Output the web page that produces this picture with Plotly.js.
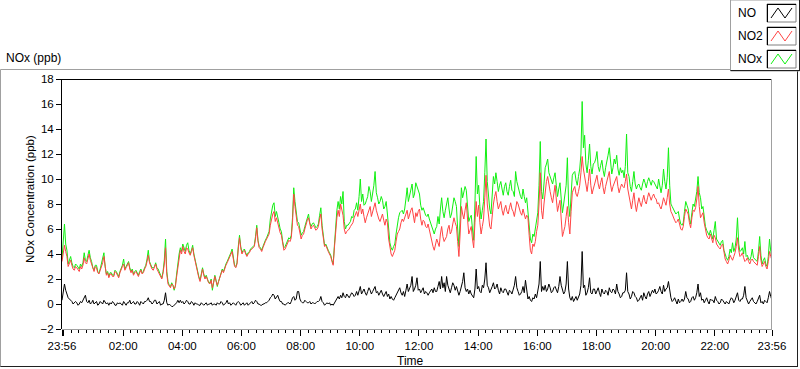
<!DOCTYPE html>
<html>
<head>
<meta charset="utf-8">
<script src="https://cdn.plot.ly/plotly-3.0.1.min.js"></script>
<style>
html,body{margin:0;padding:0;background:#fff;}
#chart{width:800px;height:369px;}
</style>
</head>
<body>
<div id="chart"></div>
<script>
// Sampling: every 2.5 minutes starting 23:56 on day 1, to 23:56 on day 2
const startTime = '2020-01-01T23:56:00';
const stepMinutes = 2.5;

const seriesNames = ['NO', 'NO2', 'NOx'];

// NO2 (ppb), one row per hour
const no2Values = [
  3.4, 3.9, 4.7, 4.2, 3.8, 3.0, 3.3, 3.5, 3.1, 2.8, 2.7, 3.0, 2.9, 2.7, 2.6, 3.0, 2.8, 3.1, 3.7, 3.3, 3.2, 3.6, 4.0, 3.5,
  3.2, 2.8, 2.6, 3.0, 2.9, 2.5, 2.4, 2.7, 3.0, 3.3, 3.8, 2.9, 2.3, 2.5, 2.1, 2.4, 2.4, 2.2, 2.2, 2.6, 2.5, 2.3, 2.1, 2.5,
  2.8, 3.0, 3.2, 2.7, 2.9, 3.1, 3.3, 2.8, 2.5, 2.7, 2.3, 2.5, 2.6, 2.4, 2.2, 2.5, 2.7, 2.4, 2.5, 2.8, 3.0, 3.4, 3.9, 3.3,
  3.0, 2.8, 2.7, 2.9, 3.2, 2.8, 2.6, 2.4, 2.2, 2.0, 2.5, 3.2, 4.5, 2.4, 1.6, 1.4, 1.3, 1.6, 1.5, 1.2, 1.4, 2.2, 3.0, 3.8,
  4.3, 4.0, 4.6, 4.2, 4.0, 4.5, 4.4, 4.1, 3.9, 4.2, 4.5, 3.9, 3.4, 2.9, 2.4, 2.1, 1.8, 2.3, 2.8, 2.3, 2.0, 2.2, 1.9, 1.7,
  1.6, 1.9, 1.3, 1.7, 2.2, 1.8, 1.5, 1.8, 2.1, 2.4, 2.7, 2.5, 2.9, 3.1, 3.3, 3.5, 3.8, 4.0, 4.2, 3.6, 3.0, 2.9, 3.2, 4.4,
  5.3, 4.5, 4.0, 4.2, 4.3, 4.0, 3.8, 4.0, 4.1, 4.3, 4.4, 4.5, 4.6, 5.2, 6.1, 5.0, 4.5, 4.4, 4.2, 4.5, 4.8, 5.0, 5.2, 5.4,
  5.6, 6.3, 6.8, 7.2, 7.4, 6.6, 6.9, 6.4, 6.0, 5.7, 5.5, 4.8, 4.3, 4.4, 4.6, 4.9, 5.1, 5.0, 5.3, 6.5, 8.8, 7.8, 7.0, 6.3,
  6.2, 5.6, 5.2, 5.5, 5.6, 6.0, 6.4, 6.7, 6.9, 6.3, 6.0, 6.2, 6.3, 6.1, 5.9, 6.0, 6.2, 6.8, 7.2, 6.0, 5.0, 4.6, 4.7, 4.4,
  4.2, 4.0, 3.8, 3.4, 3.1, 4.5, 6.0, 6.9, 7.5, 7.0, 8.0, 7.5, 7.1, 6.0, 5.6, 5.8, 5.9, 6.0, 6.2, 6.4, 6.5, 6.9, 7.2, 7.4,
  7.0, 7.6, 8.0, 7.2, 7.6, 7.0, 6.5, 6.9, 7.2, 7.5, 7.8, 7.0, 7.4, 7.8, 8.1, 7.5, 7.0, 6.8, 6.6, 7.0, 7.2, 6.7, 6.3, 6.8,
  6.5, 5.2, 4.4, 4.0, 3.8, 4.1, 4.3, 5.0, 5.6, 5.8, 6.0, 6.5, 6.8, 6.6, 6.9, 7.3, 7.5, 6.8, 7.2, 7.5, 7.7, 6.9, 6.5, 7.3,
  7.0, 7.4, 7.6, 6.8, 6.3, 6.7, 6.6, 6.2, 6.1, 6.4, 5.9, 5.3, 5.0, 4.6, 4.3, 4.8, 5.2, 4.9, 4.6, 5.6, 6.2, 5.4, 5.0, 5.2,
  5.4, 6.0, 6.3, 5.6, 5.8, 6.4, 6.9, 6.5, 6.2, 5.0, 3.8, 5.6, 7.8, 7.2, 6.8, 7.5, 8.1, 6.8, 5.6, 5.9, 6.2, 5.2, 4.5, 6.5,
  8.2, 7.0, 7.9, 6.5, 5.6, 6.2, 6.8, 8.5, 10.3, 8.0, 7.0, 6.2, 6.0, 7.2, 8.0, 8.6, 9.0, 8.2, 7.6, 7.9, 8.2, 7.5, 7.1, 7.6,
  7.9, 7.4, 7.2, 7.7, 8.1, 7.6, 7.4, 7.0, 7.8, 8.2, 8.0, 7.5, 7.3, 7.1, 7.6, 7.2, 6.8, 7.1, 6.9, 5.5, 4.3, 4.0, 4.8, 4.6,
  5.0, 5.8, 6.3, 8.0, 10.5, 7.5, 6.8, 8.0, 9.2, 9.8, 10.2, 9.4, 9.0, 8.5, 8.1, 8.8, 9.5, 8.4, 7.4, 7.9, 8.3, 6.8, 5.4, 5.8,
  6.2, 7.0, 7.8, 6.5, 5.6, 7.4, 8.9, 9.2, 9.4, 8.8, 8.6, 9.0, 9.5, 10.5, 11.8, 10.8, 10.2, 9.4, 9.0, 9.8, 10.8, 9.5, 8.8, 9.2,
  9.6, 10.0, 10.3, 9.6, 9.2, 9.7, 10.1, 9.3, 8.8, 9.4, 9.9, 10.3, 10.6, 9.6, 9.0, 9.4, 9.7, 10.0, 10.2, 9.4, 8.9, 9.3, 9.6, 9.4,
  9.3, 9.8, 10.4, 9.2, 8.6, 8.0, 7.6, 8.3, 8.9, 8.0, 7.4, 8.0, 8.5, 8.1, 7.8, 8.3, 8.7, 8.2, 8.0, 8.5, 8.9, 8.6, 8.3, 8.6,
  8.8, 8.5, 8.4, 8.0, 8.1, 7.8, 7.6, 8.0, 8.5, 8.2, 7.9, 8.5, 9.2, 8.0, 7.4, 7.2, 6.9, 6.7, 6.5, 6.6, 6.8, 6.3, 6.0, 5.9,
  6.2, 7.0, 7.6, 7.4, 7.2, 6.5, 6.1, 6.9, 7.5, 7.4, 7.7, 8.4, 9.4, 7.8, 6.9, 7.1, 7.3, 6.5, 5.8, 5.5, 5.3, 5.2, 5.6, 5.1,
  4.9, 5.5, 5.3, 4.8, 4.6, 4.5, 4.4, 4.7, 4.8, 4.0, 3.6, 3.4, 3.2, 3.5, 3.9, 3.7, 3.5, 3.8, 4.1, 4.6, 5.3, 4.3, 3.8, 3.9,
  4.1, 3.7, 3.4, 3.5, 3.7, 3.4, 3.2, 3.5, 3.6, 3.4, 3.3, 3.2, 3.1, 3.8, 4.6, 3.5, 3.0, 3.2, 3.4, 3.0, 2.8, 3.4, 4.2, 3.8,
  3.5
];

// NOx (ppb)
const noxValues = [
  3.6, 5.0, 6.4, 4.8, 4.3, 3.2, 3.6, 3.8, 3.3, 3.0, 2.9, 3.2, 3.1, 2.9, 2.8, 3.2, 3.0, 3.3, 4.1, 3.5, 3.4, 3.9, 4.3, 3.7,
  3.4, 2.9, 2.7, 3.1, 3.1, 2.6, 2.5, 2.8, 3.2, 3.5, 4.1, 3.0, 2.4, 2.6, 2.2, 2.5, 2.5, 2.3, 2.3, 2.7, 2.6, 2.4, 2.2, 2.6,
  2.9, 3.1, 3.6, 2.8, 3.0, 3.2, 3.4, 2.9, 2.6, 2.8, 2.4, 2.6, 2.7, 2.5, 2.3, 2.6, 2.8, 2.5, 2.6, 2.9, 3.1, 3.6, 4.3, 3.4,
  3.1, 2.9, 2.9, 3.0, 3.3, 2.9, 2.8, 2.5, 2.3, 2.1, 2.6, 3.5, 5.2, 2.6, 1.8, 1.5, 1.4, 1.7, 1.5, 1.1, 1.5, 2.4, 3.4, 4.0,
  4.5, 4.2, 4.8, 4.4, 4.2, 4.7, 4.9, 4.3, 4.0, 4.3, 4.7, 4.0, 3.5, 3.0, 2.5, 2.2, 1.9, 2.4, 2.9, 2.4, 2.1, 2.3, 2.0, 1.7,
  1.7, 2.0, 1.1, 1.7, 2.3, 1.9, 1.4, 1.8, 2.2, 2.5, 2.8, 2.6, 3.0, 3.2, 3.4, 3.6, 3.9, 4.1, 4.4, 3.7, 3.1, 3.0, 3.3, 4.6,
  5.5, 4.6, 4.1, 4.3, 4.4, 4.1, 3.9, 4.1, 4.2, 4.4, 4.5, 4.6, 4.7, 5.4, 6.3, 5.1, 4.6, 4.5, 4.3, 4.6, 4.9, 5.1, 5.3, 5.6,
  5.8, 6.8, 7.5, 7.9, 8.1, 7.0, 7.4, 6.8, 6.5, 6.0, 5.8, 5.0, 4.5, 4.6, 4.8, 5.1, 5.3, 5.2, 5.5, 6.9, 9.3, 8.2, 7.4, 6.6,
  6.5, 5.8, 5.5, 5.7, 5.8, 6.2, 6.6, 6.9, 7.2, 6.5, 6.2, 6.4, 6.5, 6.3, 6.1, 6.2, 6.4, 7.1, 7.7, 6.3, 5.2, 4.7, 4.8, 4.5,
  4.3, 4.1, 3.9, 3.5, 3.2, 4.7, 6.3, 7.5, 8.2, 7.6, 8.6, 8.0, 9.0, 6.6, 6.0, 6.3, 6.3, 6.5, 6.6, 7.0, 6.9, 7.5, 7.6, 8.1,
  7.5, 8.6, 10.0, 8.2, 8.8, 7.9, 8.0, 8.3, 8.6, 9.4, 9.0, 8.2, 8.8, 9.5, 10.6, 8.9, 8.5, 8.0, 8.2, 8.6, 8.3, 7.6, 7.8, 8.2,
  7.2, 5.8, 4.9, 4.5, 4.3, 4.6, 4.8, 5.6, 6.5, 6.9, 7.3, 7.4, 7.5, 7.2, 7.6, 8.4, 9.3, 8.2, 8.7, 9.1, 9.6, 8.5, 8.8, 9.7,
  9.4, 9.0, 8.8, 7.9, 7.5, 7.7, 7.3, 7.1, 7.0, 7.2, 6.8, 6.5, 6.2, 5.9, 5.6, 6.0, 6.2, 7.0, 6.4, 7.6, 8.5, 7.4, 6.9, 7.5,
  8.0, 8.5, 7.6, 6.9, 7.2, 8.0, 8.5, 8.2, 7.8, 6.0, 4.6, 6.8, 9.3, 8.5, 8.9, 9.4, 9.1, 7.8, 6.6, 6.9, 7.1, 6.0, 5.1, 8.0,
  11.8, 8.8, 9.5, 7.8, 6.8, 7.5, 8.2, 10.5, 13.2, 9.8, 8.5, 7.6, 7.2, 8.6, 10.2, 9.6, 10.5, 9.8, 9.0, 9.5, 9.8, 9.2, 8.7, 9.4,
  9.7, 9.0, 8.7, 9.4, 9.9, 9.1, 9.0, 8.6, 10.6, 9.8, 9.4, 8.8, 8.6, 8.4, 9.2, 8.6, 8.1, 8.5, 7.2, 6.0, 5.2, 4.9, 5.6, 5.4,
  6.0, 6.8, 7.3, 9.5, 13.0, 9.0, 8.4, 9.6, 10.9, 11.2, 11.6, 10.5, 10.2, 9.8, 9.6, 10.1, 10.5, 9.5, 8.6, 9.2, 9.7, 8.4, 7.3, 8.0,
  8.6, 9.5, 11.7, 8.0, 7.0, 9.0, 10.3, 10.5, 10.6, 9.9, 9.5, 10.2, 10.8, 12.0, 16.2, 12.5, 13.5, 11.2, 10.5, 11.5, 12.8, 11.0, 10.4, 11.2,
  11.3, 11.6, 12.2, 11.0, 10.6, 11.1, 11.5, 10.7, 10.2, 10.9, 11.3, 11.9, 12.5, 11.0, 10.4, 10.9, 11.6, 11.2, 11.9, 10.8, 10.3, 10.9, 10.5, 10.7,
  10.1, 11.0, 13.6, 10.5, 10.2, 9.4, 9.0, 9.8, 10.6, 9.6, 9.2, 9.5, 9.6, 9.3, 9.1, 9.6, 10.0, 9.7, 9.3, 9.8, 10.1, 9.8, 9.5, 9.9,
  9.8, 9.6, 9.4, 9.2, 10.0, 9.3, 8.9, 9.5, 10.8, 9.8, 9.2, 10.1, 12.5, 9.5, 8.0, 7.8, 7.6, 7.4, 7.2, 7.3, 7.4, 6.8, 6.4, 6.3,
  6.5, 7.4, 8.2, 7.9, 7.6, 6.8, 6.4, 7.3, 8.0, 7.8, 8.3, 9.0, 10.2, 8.9, 8.5, 7.6, 7.8, 6.8, 6.2, 5.9, 5.7, 5.5, 5.9, 5.5,
  5.2, 5.9, 6.6, 5.2, 5.0, 4.8, 4.7, 5.0, 5.1, 4.3, 3.9, 3.7, 3.5, 3.8, 4.4, 4.1, 4.9, 4.2, 4.5, 5.2, 6.9, 4.8, 4.2, 4.3,
  4.5, 4.0, 5.0, 3.8, 3.9, 3.6, 3.5, 3.8, 4.4, 3.7, 3.6, 3.5, 3.4, 4.2, 5.4, 3.9, 3.2, 3.5, 3.7, 3.2, 3.0, 3.8, 5.2, 4.2,
  3.7
];

// NO (ppb)
const noValues = [
  0.3, 1.2, 1.6, 1.1, 0.8, 0.5, 0.4, 0.3, 0.2, 0.0, 0.1, 0.2, 0.1, -0.1, 0.0, 0.2, 0.1, 0.3, 0.5, 0.7, 0.2, 0.1, 0.3, 0.0,
  0.1, 0.3, 0.0, 0.1, 0.2, -0.1, 0.0, 0.2, 0.1, 0.0, 0.3, 0.1, 0.0, 0.1, -0.1, 0.1, 0.0, 0.2, 0.1, -0.1, -0.1, 0.1, 0.0, 0.1,
  0.0, -0.1, 0.2, 0.0, -0.1, 0.1, 0.1, 0.3, 0.0, 0.1, 0.2, 0.0, 0.0, 0.2, 0.1, -0.1, 0.2, 0.1, 0.0, 0.2, 0.2, 0.3, 0.5, 0.2,
  0.2, 0.0, 0.1, 0.3, 0.3, 0.0, 0.1, 0.2, -0.1, 0.0, 0.0, 0.3, 0.9, 0.1, -0.1, 0.0, -0.1, -0.2, -0.2, -0.1, 0.0, 0.1, 0.3, 0.1,
  0.3, 0.1, 0.2, 0.0, 0.1, 0.3, 0.2, 0.0, 0.0, 0.2, 0.1, -0.1, 0.1, 0.0, 0.0, -0.1, -0.1, 0.1, 0.0, -0.1, 0.0, 0.1, -0.1, 0.0,
  0.0, 0.1, -0.1, 0.0, 0.0, -0.1, 0.1, 0.0, 0.0, 0.2, 0.1, -0.1, 0.0, 0.1, 0.3, 0.0, 0.1, -0.1, 0.0, 0.1, 0.0, -0.1, 0.1, 0.2,
  0.1, -0.1, 0.0, 0.1, -0.1, 0.0, 0.1, -0.1, 0.0, 0.1, 0.2, 0.0, 0.1, 0.3, 0.2, 0.0, 0.0, -0.1, -0.1, 0.0, 0.0, 0.1, 0.1, 0.2,
  0.3, 0.5, 0.6, 0.8, 0.7, 0.4, 0.6, 0.7, 0.4, 0.2, 0.2, 0.0, 0.0, -0.1, 0.0, 0.1, 0.1, 0.0, 0.2, 0.5, 0.6, 0.3, 0.4, 1.0,
  1.0, 0.4, 0.2, 0.1, 0.1, 0.3, 0.2, 0.1, 0.1, 0.2, 0.0, 0.1, 0.1, 0.0, 0.1, 0.2, 0.2, 0.3, 0.6, 0.2, 0.1, -0.1, 0.0, 0.1,
  0.0, 0.1, -0.1, 0.0, -0.1, 0.1, 0.2, 0.5, 0.6, 0.4, 0.7, 0.5, 0.9, 0.6, 0.5, 0.8, 0.6, 0.5, 0.7, 0.9, 0.8, 0.6, 0.7, 1.0,
  0.7, 1.1, 1.4, 0.8, 1.0, 1.2, 0.9, 0.7, 1.0, 1.3, 1.1, 0.8, 1.0, 1.2, 1.4, 0.9, 1.0, 0.7, 0.9, 1.1, 0.8, 0.6, 0.8, 1.0,
  0.6, 0.8, 0.4, 0.6, 0.4, 0.3, 0.5, 0.7, 0.8, 1.0, 1.3, 0.9, 0.7, 1.0, 0.6, 1.1, 1.6, 1.0, 1.3, 1.5, 2.2, 1.0, 1.2, 1.5,
  2.1, 1.1, 1.2, 0.9, 1.1, 1.3, 0.8, 1.0, 0.9, 0.7, 0.9, 1.1, 1.2, 0.9, 1.3, 1.0, 1.0, 1.4, 1.8, 1.2, 2.2, 1.3, 1.7, 1.0,
  2.2, 1.5, 1.2, 0.9, 1.3, 1.7, 1.5, 1.1, 1.4, 0.9, 0.7, 1.0, 1.4, 1.8, 2.5, 1.3, 1.0, 1.2, 0.8, 1.1, 0.8, 0.6, 0.5, 1.2,
  2.8, 1.2, 1.4, 1.0, 0.9, 1.5, 1.3, 2.0, 3.3, 1.5, 1.3, 0.9, 1.1, 1.4, 1.7, 1.2, 1.3, 1.6, 1.1, 0.8, 1.3, 1.0, 0.9, 1.2,
  1.2, 0.9, 0.7, 1.1, 1.0, 0.8, 1.1, 1.5, 2.2, 1.3, 1.0, 0.7, 0.8, 1.0, 1.4, 0.9, 1.9, 0.9, 0.4, 0.6, 0.3, 0.2, 0.5, 0.4,
  0.8, 0.5, 1.0, 1.6, 3.4, 1.0, 1.4, 1.1, 1.5, 1.0, 1.2, 1.6, 1.3, 0.9, 1.0, 1.3, 1.4, 1.1, 0.9, 1.4, 2.2, 1.5, 1.2, 0.8,
  1.0, 1.6, 3.4, 1.2, 0.5, 0.3, 0.6, 0.2, 0.4, 0.6, 0.3, 0.5, 0.8, 1.5, 4.2, 1.3, 1.5, 0.7, 0.9, 1.3, 2.1, 0.9, 0.8, 1.2,
  1.2, 0.8, 1.0, 1.3, 0.9, 0.6, 1.2, 0.9, 0.8, 1.1, 1.0, 0.7, 1.3, 1.0, 0.9, 1.2, 1.1, 0.8, 1.6, 1.0, 0.8, 0.5, 0.6, 0.9,
  0.9, 1.1, 2.5, 1.0, 0.8, 0.4, 0.6, 1.0, 0.9, 0.6, 0.5, 0.2, 0.3, 0.5, 0.7, 0.3, 0.9, 0.6, 0.4, 0.8, 1.0, 0.6, 0.8, 1.1,
  0.9, 1.2, 0.8, 0.9, 1.1, 1.4, 1.0, 0.8, 1.5, 1.0, 1.2, 1.3, 1.8, 0.9, 0.5, 0.2, 0.3, 0.5, 0.2, 0.0, 0.4, 0.1, 0.2, 0.4,
  0.2, 0.4, 1.0, 0.5, 0.4, 0.1, 0.2, 0.5, 0.6, 0.3, 0.5, 0.9, 1.6, 0.6, 0.9, 0.3, 0.4, 0.1, 0.3, 0.5, 0.2, 0.0, 0.4, 0.3,
  0.3, 0.1, 0.6, 0.3, 0.2, 0.0, 0.1, 0.4, 0.3, 0.1, 0.0, 0.2, 0.1, 0.0, 0.3, 0.5, 0.4, 0.1, 0.3, 0.6, 0.9, 0.3, 0.2, 0.4,
  0.4, 0.7, 1.4, 0.5, 0.2, 0.0, 0.2, 0.4, 0.5, 0.2, 0.1, 0.0, 0.2, 0.4, 0.7, 0.1, 0.2, 0.0, 0.3, 0.2, 0.1, 0.5, 1.0, 0.6,
  0.3
];

// Axis ticks
const xTickVals = ['2020-01-01T23:56:00','2020-01-02T00:00:00','2020-01-02T02:00:00','2020-01-02T04:00:00',
  '2020-01-02T06:00:00','2020-01-02T08:00:00','2020-01-02T10:00:00','2020-01-02T12:00:00',
  '2020-01-02T14:00:00','2020-01-02T16:00:00','2020-01-02T18:00:00','2020-01-02T20:00:00',
  '2020-01-02T22:00:00','2020-01-02T23:56:00'];
const xTickText = ['23:56','','02:00','04:00','06:00','08:00','10:00','12:00','14:00','16:00','18:00','20:00','22:00','23:56'];
const yTickVals = [-2, 0, 2, 4, 6, 8, 10, 12, 14, 16, 18];

// ---------- build ----------
function pad(n){return (n<10?'0':'')+n;}
const t0 = new Date(startTime + 'Z').getTime();
const times = no2Values.map((_, i) => {
  const d = new Date(t0 + i*stepMinutes*60000);
  return d.getUTCFullYear()+'-'+pad(d.getUTCMonth()+1)+'-'+pad(d.getUTCDate())+' '+pad(d.getUTCHours())+':'+pad(d.getUTCMinutes())+':'+pad(d.getUTCSeconds());
});

const colors = {NO:'#000000', NO2:'#ff4444', NOx:'#11f011'};
const FONT = 'Liberation Sans, Arial, sans-serif';

const traces = [
  {x: times, y: noxValues, name: seriesNames[2], type:'scatter', mode:'lines', line:{color:colors.NOx, width:1}},
  {x: times, y: no2Values, name: seriesNames[1], type:'scatter', mode:'lines', line:{color:colors.NO2, width:1}},
  {x: times, y: noValues,  name: seriesNames[0], type:'scatter', mode:'lines', line:{color:colors.NO, width:1}}
];

// pixel -> paper helpers (plot area 62..772 x, 79..329 y)
const L=62, R=772, T=79, B=329;
const px = v => (v - L)/(R - L);
const py = v => (B - v)/(B - T);

const shapes = [];
function line(x0,y0,x1,y1,color,w){
  shapes.push({type:'line', xref:'paper', yref:'paper', x0:px(x0), y0:py(y0), x1:px(x1), y1:py(y1), line:{color:color, width:w||1}, layer:'above'});
}
// outer frame
line(0.5,69.5,730,69.5,'#a0a0a0');
line(0.5,69.5,0.5,367,'#a0a0a0');
line(0.5,366.5,797.5,366.5,'#202020');
line(797.5,71,797.5,367,'#202020');
// plot area frame
line(62,79.5,772,79.5,'#000000');
line(771.5,79,771.5,329.5,'#a0a0a0');
line(62,329.5,772,329.5,'#a0a0a0');
// legend box
shapes.push({type:'rect', xref:'paper', yref:'paper', x0:px(730.5), y0:py(0), x1:px(799.5), y1:py(71), line:{color:'#a0a0a0', width:1}, fillcolor:'#ffffff', layer:'above'});
line(730.5,70.5,799.5,70.5,'#202020');
line(799.5,0,799.5,71,'#202020');

const legendRows = [
  {name: seriesNames[0], color: colors.NO, top: 4},
  {name: seriesNames[1], color: colors.NO2, top: 27},
  {name: seriesNames[2], color: colors.NOx, top: 50}
];
const annotations = [];
legendRows.forEach(r => {
  const x0 = 767, x1 = 796, y0 = r.top, y1 = r.top + 18;
  shapes.push({type:'rect', xref:'paper', yref:'paper', x0:px(x0), y0:py(y0), x1:px(x1), y1:py(y1), line:{color:'#808080', width:1}, fillcolor:'#ffffff', layer:'above'});
  line(x0, y0+0.5, x1, y0+0.5, '#000000');
  line(x0+0.5, y0, x0+0.5, y1, '#000000');
  const zx = [x0+4, x0+11, x0+18, x0+25], zy = [y1-4, y0+4, y1-4, y0+4];
  const path = 'M' + zx.map((v,i)=> px(v)+','+py(zy[i])).join(' L');
  shapes.push({type:'path', xref:'paper', yref:'paper', path: path, line:{color:r.color, width:1}, layer:'above'});
  annotations.push({xref:'paper', yref:'paper', x:px(736), y:py(r.top+9), xanchor:'left', yanchor:'middle', text:r.name, showarrow:false, font:{family:FONT, size:12, color:'#000'}});
});

annotations.push({xref:'paper', yref:'paper', x:px(4), y:py(58), xanchor:'left', yanchor:'middle', text:'NOx (ppb)', showarrow:false, font:{family:FONT, size:12, color:'#000'}});
annotations.push({xref:'paper', yref:'paper', x:px(30), y:py(199), xanchor:'center', yanchor:'middle', textangle:-90, text:'NOx Concentration (ppb)', showarrow:false, font:{family:FONT, size:11.5, color:'#000'}});
annotations.push({xref:'paper', yref:'paper', x:px(410), y:py(361), xanchor:'center', yanchor:'middle', text:'Time', showarrow:false, font:{family:FONT, size:12, color:'#000'}});

const layout = {
  width: 800, height: 369,
  margin: {l: L, r: 800-R, t: T, b: 369-B, pad: 0},
  paper_bgcolor: '#ffffff', plot_bgcolor: '#ffffff',
  showlegend: false,
  font: {family: FONT, size: 11.5, color: '#000'},
  xaxis: {
    type: 'date',
    range: [xTickVals[0], xTickVals[xTickVals.length-1]],
    tickmode: 'array', tickvals: xTickVals, ticktext: xTickText,
    ticks: 'outside', ticklen: 6, tickwidth: 1, tickcolor: '#000',
    minor: {ticks: 'outside', ticklen: 3, tickcolor: '#000', dtick: 15*60*1000, tick0: '2020-01-02 00:00', showgrid: false},
    showgrid: false, zeroline: false, showline: false,
    tickfont: {family: FONT, size: 11.5, color: '#000'},
    fixedrange: true
  },
  yaxis: {
    range: [-2, 18],
    tickmode: 'array', tickvals: yTickVals,
    ticks: 'outside', ticklen: 5, tickwidth: 1, tickcolor: '#000',
    showgrid: false, zeroline: false,
    showline: true, linecolor: '#000', linewidth: 1,
    tickfont: {family: FONT, size: 11.5, color: '#000'},
    fixedrange: true
  },
  shapes: shapes,
  annotations: annotations
};

Plotly.newPlot('chart', traces, layout, {staticPlot: true, displayModeBar: false});
</script>
</body>
</html>
